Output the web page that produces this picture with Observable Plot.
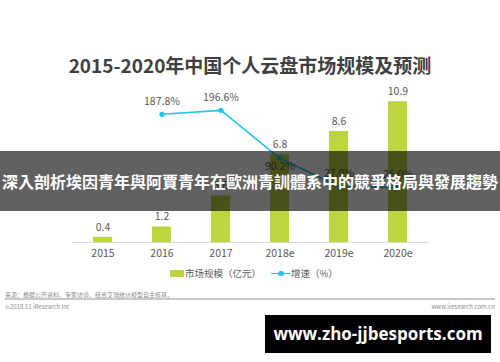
<!DOCTYPE html>
<html>
<head>
<meta charset="utf-8">
<script src="https://cdn.jsdelivr.net/npm/d3@7"></script>
<script src="https://cdn.jsdelivr.net/npm/@observablehq/plot@0.6"></script>
<style>
  html, body { margin: 0; padding: 0; background: #fff; }
  #wrap { position: relative; width: 500px; height: 362px; overflow: hidden;
          font-family: "Microsoft YaHei", "Noto Sans CJK SC", "Noto Sans", sans-serif; }
  #chart { position: absolute; left: 0; top: 0; }
  .abs { position: absolute; white-space: nowrap; }
  #title { left: 0; width: 500px; top: 52px; text-align: center; font-size: 19px; font-weight: 700; color: #404040; line-height: 26px; }
  #legend { top: 265px; left: 0; width: 500px; height: 16px; font-size: 9.5px; color: #595959; }
  #banner { left: 0; top: 151px; width: 500px; height: 60px; background: rgba(0,0,0,0.62); color: #fff;
            font-size: 16px; font-weight: 700; text-align: center; line-height: 60px; font-family: "Noto Sans CJK TC", "Noto Sans CJK SC", sans-serif; }
  #src { left: 5px; top: 290px; font-size: 6px; color: #8c8c8c; }
  #rule { left: 5px; top: 298px; width: 490px; height: 2px; background: #c8c8c8; }
  #copy { left: 5px; top: 302px; font-size: 6px; color: #8c8c8c; }
  #site { right: 5px; top: 302px; font-size: 6px; color: #8c8c8c; }
  #box { left: 265px; top: 315px; width: 226px; height: 38px; background: #000; color: #fff; font-family: "Open Sans", sans-serif;
         font-weight: 700; font-size: 17px; text-align: center; line-height: 38px; }
</style>
</head>
<body>
<div id="wrap">
  <div id="chart"></div>
  <div id="title" class="abs"></div>
  <div id="legend" class="abs"></div>
  <div id="banner" class="abs"></div>
  <div id="src" class="abs"></div>
  <div id="rule" class="abs"></div>
  <div id="copy" class="abs"></div>
  <div id="site" class="abs"></div>
  <div id="box" class="abs"></div>
</div>
<script>
// ---- data ----
const titleText = "2015-2020年中国个人云盘市场规模及预测";
const years = ["2015", "2016", "2017", "2018e", "2019e", "2020e"];
const marketSize = [0.4, 1.2, 3.6, 6.8, 8.6, 10.9];
const growthYears = ["2016", "2017", "2018e", "2019e", "2020e"];
const growthRate = [187.8, 196.6, 90.2, 27.0, 26.0];
const seriesNames = ["市场规模（亿元）", "增速（%）"];
const bannerText = "深入剖析埃因青年與阿賈青年在歐洲青訓體系中的競爭格局與發展趨勢";
const sourceText = "来源：根据公开资料、专家访谈，结合艾瑞统计模型自主核算。";
const copyText = "©2018.11 iResearch Inc";
const siteText = "www.iresearch.com.cn";
const boxText = "www.zho-jjbesports.com";

const barColor = "#bdd53f";
const lineColor = "#22c4e8";
const labelColor = "#595959";

const bars = years.map((y, i) => ({year: y, value: marketSize[i]}));
// secondary axis for growth rate mapped into the primary y domain
const growthScale = d3.scaleLinear().domain([0, 200]).range([3.37, 10.35]);
const growth = growthYears.map((y, i) => ({year: y, rate: growthRate[i], yv: growthScale(growthRate[i])}));

const chart = Plot.plot({
  width: 500,
  height: 362,
  marginLeft: 72,
  marginRight: 72,
  marginTop: 87,
  marginBottom: 120,
  style: {fontFamily: '"Microsoft YaHei", "Noto Sans CJK SC", sans-serif', background: "transparent"},
  x: {type: "band", domain: years, paddingInner: 0.68, paddingOuter: 0.34, label: null},
  y: {domain: [0, 12], axis: null},
  marks: [
    Plot.barY(bars, {x: "year", y: "value", fill: barColor}),
    Plot.ruleY([0], {stroke: "#d9d9d9", strokeWidth: 1.2}),
    Plot.text(bars, {x: "year", y: "value", text: d => d.value.toFixed(1), dy: -10, fill: labelColor, fontSize: 10.5}),
    Plot.line(growth, {x: "year", y: "yv", stroke: lineColor, strokeWidth: 1.6}),
    Plot.dot(growth, {x: "year", y: "yv", fill: lineColor, r: 2.6}),
    Plot.text(growth.filter(d => d.year !== "2018e"), {x: "year", y: "yv", text: d => d.rate.toFixed(1) + "%", dy: -13, fill: labelColor, fontSize: 10.5}),
    Plot.text(growth.filter(d => d.year === "2018e"), {x: "year", y: "yv", text: d => d.rate.toFixed(1) + "%", dy: 8, fill: labelColor, fontSize: 10.5}),
    Plot.axisX({tickSize: 0, tickPadding: 7, fontSize: 10.5, color: labelColor, label: null})
  ]
});
document.getElementById("chart").appendChild(chart);

document.getElementById("title").textContent = titleText;
document.getElementById("banner").textContent = bannerText;
document.getElementById("src").textContent = sourceText;
document.getElementById("copy").textContent = copyText;
document.getElementById("site").textContent = siteText;
document.getElementById("box").textContent = boxText;

// legend
const lg = document.getElementById("legend");
lg.innerHTML = `
  <span class="abs" style="left:170px;top:5px;width:14px;height:7px;background:${barColor}"></span>
  <span class="abs" style="left:185px;top:0px;line-height:16px">${seriesNames[0]}</span>
  <span class="abs" style="left:271px;top:7.5px;width:19px;height:1.6px;background:${lineColor}"></span>
  <span class="abs" style="left:278px;top:5.5px;width:5.5px;height:5.5px;border-radius:50%;background:${lineColor}"></span>
  <span class="abs" style="left:291px;top:0px;line-height:16px">${seriesNames[1]}</span>`;
</script>
</body>
</html>
